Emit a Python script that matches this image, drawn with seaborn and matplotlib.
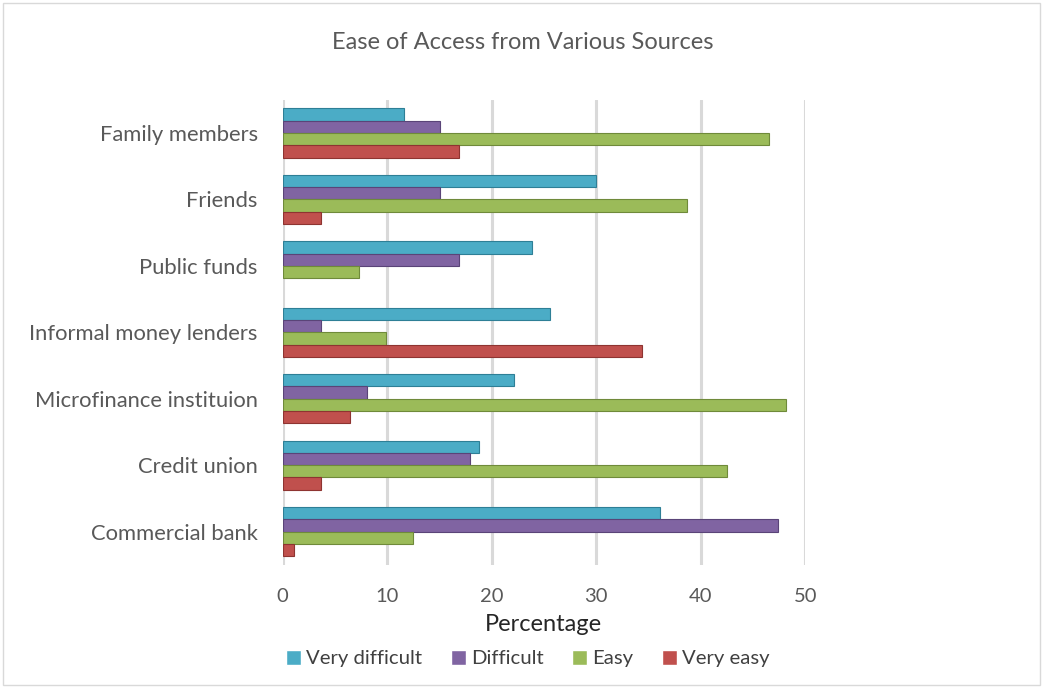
import matplotlib
matplotlib.use("Agg")
import matplotlib.pyplot as plt
import seaborn as sns
import pandas as pd
from matplotlib.patches import Rectangle

sources = ["Family members", "Friends", "Public funds", "Informal money lenders",
           "Microfinance instituion", "Credit union", "Commercial bank"]
levels = ["Very difficult", "Difficult", "Easy", "Very easy"]

very_difficult = [11.6, 30.0, 23.9, 25.6, 22.1, 18.8, 36.1]
difficult = [15.1, 15.1, 16.9, 3.7, 8.1, 17.9, 47.4]
easy = [46.5, 38.7, 7.3, 9.9, 48.2, 42.5, 12.5]
very_easy = [16.9, 3.7, 0.0, 34.4, 6.4, 3.7, 1.1]

colors = ["#4BACC6", "#8064A2", "#9BBB59", "#C0504D"]
edge_colors = ["#2E7F96", "#5A4478", "#6F8A3A", "#8E3431"]

df = pd.DataFrame({
    "Source": sources * 4,
    "Level": sum([[lv] * len(sources) for lv in levels], []),
    "Percentage": very_difficult + difficult + easy + very_easy,
})

sns.set_theme(style="white")
plt.rcParams["font.family"] = ["Lato", "DejaVu Sans"]

fig = plt.figure(figsize=(10.43, 6.88), dpi=100)
ax = fig.add_axes([0.271, 0.179, 0.501, 0.676])

sns.barplot(data=df, y="Source", x="Percentage", hue="Level", order=sources,
            hue_order=levels, palette=colors, orient="h", width=0.74,
            saturation=1, ax=ax, legend=True)

# darker outline on each bar for a slight relief effect
for container, ec in zip(ax.containers, edge_colors):
    for bar in container:
        bar.set_edgecolor(ec)
        bar.set_linewidth(0.8)
        if bar.get_width() == 0:
            bar.set_visible(False)

ax.set_xlim(0, 50)
ax.set_ylim(6.5, -0.5)
ax.set_xticks(range(0, 51, 10))
ax.xaxis.grid(True, color="#D9D9D9", linewidth=2.2)
ax.set_axisbelow(True)
for s in ax.spines.values():
    s.set_visible(False)
ax.tick_params(axis="x", length=0, pad=17, labelsize=14.5, labelcolor="#595959")
ax.tick_params(axis="y", length=0, pad=18, labelsize=15.8, labelcolor="#595959")
ax.set_ylabel("")
ax.set_xlabel("Percentage", fontsize=17, color="#262626", labelpad=6)

handles, labels = ax.get_legend_handles_labels()
ax.legend_.remove()
fig.legend(handles, labels, loc="center", bbox_to_anchor=(0.506, 0.043), ncol=4,
           frameon=False, fontsize=14.6, handlelength=0.75, handleheight=0.75,
           handletextpad=0.25, columnspacing=1.4, labelcolor="#404040")

fig.text(0.501, 0.938, "Ease of Access from Various Sources", ha="center",
         va="center", fontsize=17, color="#595959")

fig.patches.append(Rectangle((0.003, 0.004), 0.994, 0.992, transform=fig.transFigure,
                             fill=False, edgecolor="#D9D9D9", linewidth=1))

fig.savefig("out.png", dpi=100)
